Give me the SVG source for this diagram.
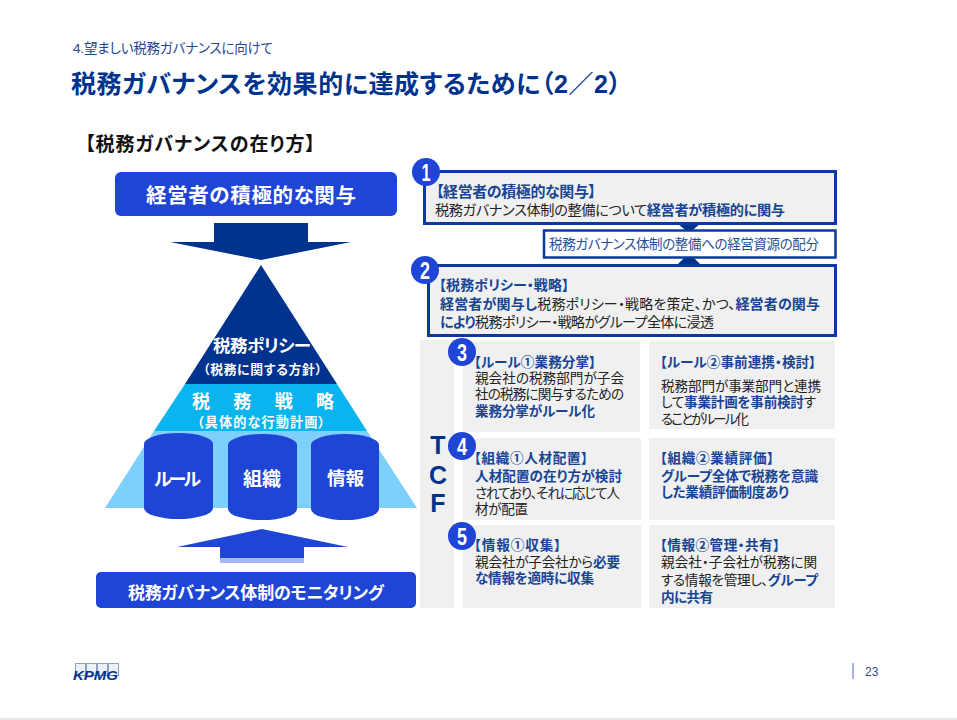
<svg xmlns="http://www.w3.org/2000/svg" width="957" height="720" viewBox="0 0 957 720">
<style>
text{font-family:"Liberation Sans","Noto Sans CJK JP",sans-serif;fill:#222;font-feature-settings:"palt"}
.b{font-weight:700}
.w{fill:#fff;font-weight:700}
.t{fill:#174594;font-weight:700;font-size:13.6px}
.l{font-size:13.6px;fill:#222}
.h{fill:#174594;font-weight:700}
.frame{fill:#f0f0f0;stroke:#0b3a9c;stroke-width:3}
.cell{fill:#f0f0f0}
.badge{fill:#1f45d6}
.num{fill:#fff;font-weight:700;font-size:23px;text-anchor:middle}
.tcf{fill:#00338d;font-weight:700;font-size:25px;text-anchor:middle}
.cyl{fill:#1f45d6}
</style>
<rect width="957" height="720" fill="#fff"/>
<rect x="0" y="718" width="957" height="2" fill="#e8e8e8"/>

<g id="header">
<text x="73" y="53" font-size="13.500" style="fill:#1f4690" textLength="200">4.望ましい税務ガバナンスに向けて</text>
<text x="71" y="93" font-size="25" class="b" style="fill:#00338d" textLength="550">税務ガバナンスを効果的に達成するために（2／2）</text>
<text x="85" y="151" font-size="19" class="b" style="fill:#111" textLength="230">【税務ガバナンスの在り方】</text>
</g>

<g id="connectors">
<polygon points="214,223 308,223 308,242 351,242 261,260 170,242 214,242" fill="#00338d"/>
<polygon points="220,558 304,558 304,547 348,547 262,529 177,547 220,547" fill="#1f45d6"/>
<rect x="220" y="558" width="84" height="5" fill="#a5b6f2"/>
<polygon points="678,224 700,224 689,233" fill="#00338d"/>
<polygon points="678,264 700,264 689,253" fill="#00338d"/>
</g>

<g id="node-commitment">
<rect x="115" y="172" width="282" height="44" rx="6" fill="#1f45d6"/>
<text x="146" y="203" font-size="20.500" class="w" textLength="210">経営者の積極的な関与</text>
</g>

<g id="node-pyramid">
<polygon points="154,431 367,431 417,508 105,508" fill="#7dcffc"/>
<polygon points="185,384 337,384 367,431 154,431" fill="#0ab4ee"/>
<polygon points="261,265 337,384 185,384" fill="#00338d"/>
<text x="213" y="352" font-size="17.500" class="w" textLength="98">税務ポリシー</text>
<text x="203" y="374" font-size="12.800" class="w" textLength="119">（税務に関する方針）</text>
<text x="192" y="408" font-size="18" class="w" textLength="142">税 務 戦 略</text>
<text x="197" y="427" font-size="13.200" class="w" textLength="128">（具体的な行動計画）</text>
</g>

<g id="node-rule">
<path class="cyl" d="M144,444 A34.500,11 0 0 1 213,444 V508 A34.500,11 0 0 1 144,508 Z"/>
<text x="154" y="486" font-size="18" class="w" textLength="47">ルール</text>
</g>
<g id="node-organization">
<path class="cyl" d="M228,445 A34.500,11 0 0 1 297,445 V509 A34.500,11 0 0 1 228,509 Z"/>
<text x="243" y="486" font-size="19" class="w" textLength="38">組織</text>
</g>
<g id="node-information">
<path class="cyl" d="M311,445 A34,11 0 0 1 379,445 V509 A34,11 0 0 1 311,509 Z"/>
<text x="327" y="485" font-size="18.500" class="w" textLength="37">情報</text>
</g>

<g id="node-monitoring">
<rect x="96" y="572" width="320" height="36" rx="5" fill="#1f45d6"/>
<text x="128" y="599" font-size="17" class="w" textLength="256">税務ガバナンス体制のモニタリング</text>
</g>

<g id="node-1">
<rect class="frame" x="424.500" y="171.500" width="411" height="52"/>
<circle class="badge" cx="426" cy="172" r="14"/>
<text class="num" x="426" y="180.500" textLength="9" lengthAdjust="spacingAndGlyphs">1</text>
<text x="436" y="197" font-size="15" class="h" textLength="160">【経営者の積極的な関与】</text>
<text x="435" y="215" font-size="14.200" textLength="350">税務ガバナンス体制の整備について<tspan class="h">経営者が積極的に関与</tspan></text>
</g>

<g id="node-allocation">
<rect x="544" y="230.500" width="291.500" height="27" fill="#fff" stroke="#0b3a9c" stroke-width="2.500"/>
<text x="549" y="249" font-size="13.500" style="fill:#1f4f9a" textLength="270">税務ガバナンス体制の整備への経営資源の配分</text>
</g>

<g id="node-2">
<rect class="frame" x="428.500" y="265.500" width="407" height="70"/>
<circle class="badge" cx="425" cy="270" r="14"/>
<text class="num" x="425" y="278.500" textLength="10" lengthAdjust="spacingAndGlyphs">2</text>
<text x="439" y="290" font-size="14" class="h" textLength="130">【税務ポリシー・戦略】</text>
<text x="440" y="309" font-size="14" textLength="380"><tspan class="h">経営者が関与し</tspan>税務ポリシー・戦略を策定、かつ、<tspan class="h">経営者の関与</tspan></text>
<text x="440" y="327" font-size="14" textLength="274"><tspan class="h">により</tspan>税務ポリシー・戦略がグループ全体に浸透</text>
</g>

<g id="node-tcf">
<rect class="cell" x="420" y="340" width="34" height="268"/>
<text class="tcf" x="438" y="454">T</text>
<text class="tcf" x="438" y="484">C</text>
<text class="tcf" x="438" y="512">F</text>
</g>

<g id="node-3">
<rect class="cell" x="463" y="341" width="177" height="91"/>
<circle class="badge" cx="462" cy="352" r="14"/>
<text class="num" x="462" y="360.500" textLength="10" lengthAdjust="spacingAndGlyphs">3</text>
<text x="474" y="367" class="t" textLength="122">【ルール①業務分掌】</text>
<text x="475" y="383" class="l" textLength="149">親会社の税務部門が子会</text>
<text x="475" y="399" class="l" textLength="149">社の税務に関与するための</text>
<text x="475" y="416" class="t" textLength="120">業務分掌がルール化</text>
</g>
<g id="node-3b">
<rect class="cell" x="649" y="341" width="186" height="88"/>
<text x="660" y="367" class="t" textLength="156">【ルール②事前連携・検討】</text>
<text x="661" y="391" class="l" textLength="160">税務部門が事業部門と連携</text>
<text x="661" y="407" class="l" textLength="155">して<tspan class="t">事業計画を事前検討</tspan>す</text>
<text x="661" y="424" class="l" textLength="88">ることがルール化</text>
</g>

<g id="node-4">
<rect class="cell" x="463" y="438" width="178" height="82"/>
<circle class="badge" cx="462" cy="446" r="14"/>
<text class="num" x="462" y="454.500" textLength="10" lengthAdjust="spacingAndGlyphs">4</text>
<text x="474" y="463" class="t" textLength="114">【組織①人材配置】</text>
<text x="475" y="481" class="t" textLength="147">人材配置の在り方が検討</text>
<text x="475" y="498" class="l" textLength="145">されており、それに応じて人</text>
<text x="475" y="514" class="l" textLength="53">材が配置</text>
</g>
<g id="node-4b">
<rect class="cell" x="649" y="438" width="186" height="82"/>
<text x="660" y="463" class="t" textLength="114">【組織②業績評価】</text>
<text x="661" y="481" class="t" textLength="157">グループ全体で税務を意識</text>
<text x="661" y="497" class="t" textLength="128">した業績評価制度あり</text>
</g>

<g id="node-5">
<rect class="cell" x="463" y="525" width="178" height="83"/>
<circle class="badge" cx="462" cy="536" r="14"/>
<text class="num" x="462" y="544.500" textLength="10" lengthAdjust="spacingAndGlyphs">5</text>
<text x="474" y="550" class="t" textLength="87">【情報①収集】</text>
<text x="475" y="567" class="l" textLength="145">親会社が子会社から<tspan class="t">必要</tspan></text>
<text x="475" y="583" class="t" textLength="119">な情報を適時に収集</text>
</g>
<g id="node-5b">
<rect class="cell" x="649" y="525" width="186" height="83"/>
<text x="660" y="550" class="t" textLength="120">【情報②管理・共有】</text>
<text x="661" y="567" class="l" textLength="156">親会社・子会社が税務に関</text>
<text x="661" y="585" class="l" textLength="157">する情報を管理し、<tspan class="t">グループ</tspan></text>
<text x="661" y="602" class="t" textLength="52">内に共有</text>
</g>

<g id="footer">
<g fill="#eef1f8" stroke="#8f9fc4" stroke-width="1">
<rect x="75.500" y="663.500" width="10" height="12"/>
<rect x="86.500" y="663.500" width="10" height="12"/>
<rect x="97.500" y="663.500" width="10" height="12"/>
<rect x="108.500" y="663.500" width="10" height="12"/>
</g>
<text x="73" y="680" font-size="13" font-style="italic" class="b" style="fill:#00338d" textLength="45" lengthAdjust="spacingAndGlyphs">KPMG</text>
<rect x="852" y="663" width="2" height="16" fill="#a3b2ea"/>
<text x="865" y="676" font-size="12" style="fill:#2b4a9f">23</text>
</g>
</svg>
